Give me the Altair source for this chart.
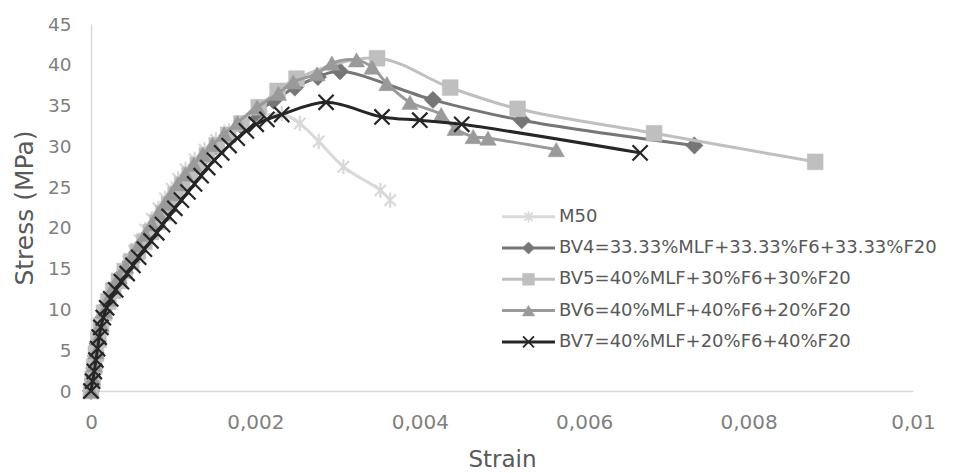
import altair as alt
import pandas as pd

# ---- data (strain in units of 1e-3, stress in MPa) ----
series_names = [
    "M50",
    "BV4=33.33%MLF+33.33%F6+33.33%F20",
    "BV5=40%MLF+30%F6+30%F20",
    "BV6=40%MLF+40%F6+20%F20",
    "BV7=40%MLF+20%F6+40%F20",
]

m50_strain = [0, 0.02, 0.04, 0.06, 0.09, 0.12, 0.15, 0.19, 0.23, 0.28, 0.33, 0.39, 0.45, 0.52, 0.59, 0.66,
              0.74, 0.82, 0.90, 0.98, 1.06, 1.15, 1.26, 1.38, 1.52, 1.68, 1.86, 2.08, 2.32, 2.54, 2.77,
              3.07, 3.52, 3.64]
m50_stress = [0, 1.3, 2.6, 3.9, 5.3, 6.7, 8.0, 9.4, 10.7, 12.0, 13.3, 14.6, 15.9, 17.2, 18.5, 19.8,
              21.1, 22.4, 23.6, 24.8, 26.0, 27.2, 28.4, 29.6, 30.8, 31.9, 32.9, 33.7, 34.0, 32.8, 30.6,
              27.5, 24.6, 23.4]

bv4_strain = [0, 0.02, 0.04, 0.06, 0.08, 0.11, 0.15, 0.20, 0.26, 0.33, 0.40, 0.48, 0.56, 0.64, 0.72, 0.80,
              0.87, 0.94, 1.02, 1.10, 1.19, 1.29, 1.40, 1.52, 1.66, 1.82, 2.00, 2.22, 2.48, 2.76, 3.03,
              4.16, 5.24, 7.34]
bv4_stress = [0, 1.4, 2.8, 4.3, 5.8, 7.4, 9.0, 10.5, 11.9, 13.2, 14.5, 15.8, 17.0, 18.2, 19.4, 20.6,
              21.7, 22.8, 24.0, 25.2, 26.4, 27.6, 28.8, 30.0, 31.3, 32.6, 34.0, 35.6, 37.2, 38.5, 39.2,
              35.7, 33.2, 30.1]

bv5_strain = [0, 0.02, 0.04, 0.06, 0.09, 0.12, 0.16, 0.21, 0.27, 0.34, 0.41, 0.49, 0.57, 0.65, 0.73, 0.81,
              0.88, 0.95, 1.03, 1.11, 1.20, 1.30, 1.41, 1.53, 1.67, 1.83, 2.04, 2.27, 2.50, 3.48,
              4.37, 5.19, 6.85, 8.81]
bv5_stress = [0, 1.5, 3.0, 4.6, 6.3, 8.0, 9.6, 11.0, 12.3, 13.5, 14.7, 15.9, 17.1, 18.3, 19.5, 20.7,
              21.8, 22.9, 24.1, 25.3, 26.5, 27.7, 28.9, 30.1, 31.4, 32.8, 34.8, 36.8, 38.3, 40.8,
              37.2, 34.6, 31.6, 28.1]

bv6_strain = [0, 0.02, 0.04, 0.06, 0.09, 0.12, 0.16, 0.21, 0.27, 0.34, 0.42, 0.50, 0.58, 0.66, 0.74, 0.82,
              0.90, 0.98, 1.06, 1.15, 1.25, 1.36, 1.48, 1.62, 1.78, 2.02, 2.28, 2.46, 2.75, 2.93,
              3.23, 3.42, 3.60, 3.88, 4.26, 4.43, 4.65, 4.83, 5.66]
bv6_stress = [0, 1.6, 3.2, 4.8, 6.5, 8.2, 9.8, 11.3, 12.7, 14.0, 15.3, 16.6, 17.9, 19.2, 20.5, 21.8,
              23.0, 24.2, 25.4, 26.6, 27.8, 29.0, 30.2, 31.5, 32.9, 34.8, 36.5, 37.9, 38.9, 40.2,
              40.6, 39.7, 37.7, 35.4, 33.9, 32.2, 31.2, 31.0, 29.6]

bv7_strain = [0, 0.02, 0.04, 0.06, 0.08, 0.10, 0.12, 0.15, 0.19, 0.24, 0.30, 0.37, 0.44, 0.51, 0.58, 0.65,
              0.73, 0.80, 0.87, 0.95, 1.02, 1.10, 1.18, 1.26, 1.34, 1.42, 1.50, 1.59, 1.68, 1.78,
              1.89, 2.01, 2.14, 2.32, 2.86, 3.54, 4.00, 4.51, 6.68]
bv7_stress = [0, 1.2, 2.4, 3.8, 5.2, 6.6, 7.8, 9.0, 10.2, 11.3, 12.4, 13.4, 14.4, 15.4, 16.4, 17.4,
              18.4, 19.4, 20.4, 21.4, 22.4, 23.4, 24.4, 25.4, 26.4, 27.4, 28.3, 29.2, 30.1, 31.0,
              31.9, 32.7, 33.3, 33.9, 35.4, 33.6, 33.2, 32.7, 29.2]

x_ticks = [0, 2, 4, 6, 8, 10]
y_ticks = [0, 5, 10, 15, 20, 25, 30, 35, 40, 45]

# ---- styling ----
colors = ["#d9d9d9", "#767676", "#bfbfbf", "#9a9a9a", "#262626"]
ASTER = "M-0.75,-0.75L0.75,0.75M-0.75,0.75L0.75,-0.75M0,-1L0,1"
XPATH = "M-1,-1L1,1M-1,1L1,-1"
shapes = [ASTER, "diamond", "square", "triangle-up", XPATH]
filled = [False, True, True, True, False]
sizes = [230, 300, 250, 270, 230]
leg_sizes = [120, 150, 140, 150, 120]

all_strain = [m50_strain, bv4_strain, bv5_strain, bv6_strain, bv7_strain]
all_stress = [m50_stress, bv4_stress, bv5_stress, bv6_stress, bv7_stress]

frames = []
for name, xs, ys in zip(series_names, all_strain, all_stress):
    frames.append(pd.DataFrame({"series": name, "strain": xs, "stress": ys}))
df = pd.concat(frames, ignore_index=True)

FONT = "DejaVu Sans"

xenc = alt.X(
    "strain:Q",
    scale=alt.Scale(domain=[0, 10], nice=False, zero=True),
    axis=alt.Axis(
        values=x_ticks,
        labelExpr="replace(format(datum.value/1000, '~g'), '.', ',')",
        title="Strain",
    ),
)
yenc = alt.Y(
    "stress:Q",
    scale=alt.Scale(domain=[0, 45], nice=False),
    axis=alt.Axis(values=y_ticks, title="Stress (MPa)"),
)

layers = []
for i, name in enumerate(series_names):
    base = alt.Chart(df).transform_filter(alt.datum.series == name)
    line = base.mark_line(
        interpolate="catmull-rom", color=colors[i], strokeWidth=3
    ).encode(x=xenc, y=yenc)
    if filled[i]:
        pts = base.mark_point(
            shape=shapes[i], filled=True, fill=colors[i], stroke=colors[i],
            strokeWidth=0.5, size=sizes[i], opacity=1,
        ).encode(x=xenc, y=yenc)
    else:
        pts = base.mark_point(
            shape=shapes[i], filled=False, stroke=colors[i],
            strokeWidth=2.2, size=sizes[i], opacity=1,
        ).encode(x=xenc, y=yenc)
    layers += [line, pts]

# ---- legend (inside plot, lower right) ----
for i, name in enumerate(series_names):
    ly = 192.7 + 31.3 * i
    ldata = pd.DataFrame({"label": [name]})
    lb = alt.Chart(ldata)
    seg = lb.mark_rule(color=colors[i], strokeWidth=3).encode(
        x=alt.value(411), x2=alt.value(464), y=alt.value(ly)
    )
    if filled[i]:
        mk = lb.mark_point(shape=shapes[i], filled=True, fill=colors[i], stroke=colors[i],
                           strokeWidth=0.5, size=leg_sizes[i], opacity=1).encode(
            x=alt.value(437.5), y=alt.value(ly))
    else:
        mk = lb.mark_point(shape=shapes[i], filled=False, stroke=colors[i],
                           strokeWidth=1.8, size=leg_sizes[i], opacity=1).encode(
            x=alt.value(437.5), y=alt.value(ly))
    txt = lb.mark_text(align="left", baseline="middle", font=FONT, fontSize=18,
                       color="#595959").encode(
        x=alt.value(468), y=alt.value(ly), text="label:N")
    layers += [seg, mk, txt]

chart = alt.layer(*layers).properties(
    width=822,
    height=367,
    autosize=alt.AutoSizeParams(type="none"),
    padding={"left": 91, "top": 24, "right": 40, "bottom": 82},
    background="white",
).configure_view(stroke=None).configure_axis(
    grid=False,
    ticks=False,
    tickSize=0,
    labelFlush=False,
    domainColor="#d9d9d9",
    domainWidth=1.5,
    labelFont=FONT,
    labelColor="#7f7f7f",
    titleFont=FONT,
    titleColor="#595959",
    titleFontWeight="normal",
).configure_axisX(
    labelFontSize=20,
    labelPadding=21,
    titleFontSize=23,
    titlePadding=16,
).configure_axisY(
    labelFontSize=18.5,
    labelPadding=20,
    titleFontSize=25,
    titlePadding=10,
)

chart.save("out.html", embed_options={"renderer": "svg", "actions": False})
